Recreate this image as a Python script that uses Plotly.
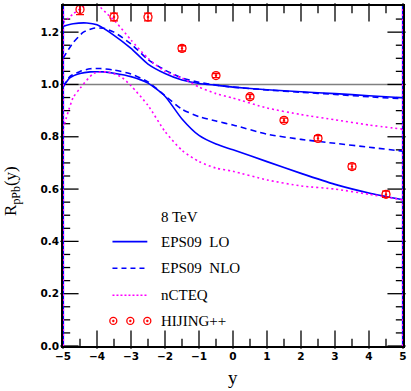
import plotly.graph_objects as go

# ---- data ----
lo_up_x = [-5, -4.7, -4.3, -4.0, -3.5, -3.0, -2.5, -2.0, -1.5, -1.0, -0.5, 0, 1, 2, 3, 4, 5]
lo_up_y = [1.222, 1.232, 1.235, 1.228, 1.188, 1.138, 1.078, 1.042, 1.017, 1.004, 0.997, 0.990, 0.980, 0.972, 0.965, 0.957, 0.949]

lo_dn_x = [-5, -4.8, -4.5, -4.2, -3.8, -3.5, -3.0, -2.5, -2.0, -1.5, -1.0, -0.5, 0, 1, 2, 3, 4, 5]
lo_dn_y = [0.990, 1.025, 1.042, 1.048, 1.048, 1.043, 1.030, 1.005, 0.955, 0.868, 0.805, 0.772, 0.750, 0.705, 0.660, 0.618, 0.585, 0.559]

nlo_up_x = [-5, -4.7, -4.4, -4.1, -3.8, -3.5, -3.0, -2.5, -2.0, -1.5, -1.0, -0.5, 0, 1, 2, 3, 4, 5]
nlo_up_y = [1.100, 1.160, 1.200, 1.215, 1.215, 1.200, 1.155, 1.095, 1.055, 1.025, 1.008, 0.998, 0.990, 0.979, 0.970, 0.962, 0.953, 0.945]

nlo_dn_x = [-5, -4.8, -4.5, -4.2, -3.9, -3.5, -3.0, -2.5, -2.0, -1.5, -1.0, -0.5, 0, 1, 2, 3, 4, 5]
nlo_dn_y = [0.990, 1.030, 1.050, 1.060, 1.061, 1.055, 1.040, 1.010, 0.957, 0.905, 0.877, 0.860, 0.845, 0.810, 0.790, 0.775, 0.760, 0.745]

ncteq_up_x = [-5, -4.7, -4.4, -4.15, -3.95, -3.7, -3.44, -3.0, -2.5, -2.0, -1.5, -1.0, -0.5, 0, 1, 2, 3, 4, 5]
ncteq_up_y = [1.235, 1.270, 1.297, 1.310, 1.300, 1.270, 1.238, 1.170, 1.100, 1.050, 1.025, 0.990, 0.965, 0.948, 0.910, 0.885, 0.865, 0.845, 0.829]

ncteq_dn_x = [-5, -4.7, -4.5, -4.1, -3.7, -3.3, -3.0, -2.5, -2.0, -1.5, -1.0, -0.5, 0, 1, 2, 3, 4, 5]
ncteq_dn_y = [0.830, 0.950, 0.985, 1.042, 1.048, 1.030, 0.995, 0.920, 0.820, 0.748, 0.705, 0.680, 0.668, 0.635, 0.612, 0.600, 0.580, 0.559]

hij_x = [-4.5, -3.5, -2.5, -1.5, -0.5, 0.5, 1.5, 2.5, 3.5, 4.5]
hij_y = [1.287, 1.258, 1.258, 1.138, 1.034, 0.953, 0.863, 0.794, 0.686, 0.580]
hij_err = [0.020, 0.015, 0.015, 0.010, 0.008, 0.008, 0.008, 0.010, 0.010, 0.012]

x_range = [-5, 5]
y_range = [0, 1.3]
x_major = [-5, -4, -3, -2, -1, 0, 1, 2, 3, 4, 5]
x_minor = [-4.5, -3.5, -2.5, -1.5, -0.5, 0.5, 1.5, 2.5, 3.5, 4.5]
y_major = [0.0, 0.2, 0.4, 0.6, 0.8, 1.0, 1.2]
y_minor = [0.05, 0.1, 0.15, 0.25, 0.3, 0.35, 0.45, 0.5, 0.55, 0.65, 0.7, 0.75,
           0.85, 0.9, 0.95, 1.05, 1.1, 1.15, 1.25]

legend_labels = ["EPS09  LO", "EPS09  NLO", "nCTEQ", "HIJING++"]
energy_label = "8 TeV"

BLUE = "#0000ff"
MAG = "#ff00ff"
RED = "#ff0000"

W, H = 411, 391
ML, MR, MT, MB = 63, 6, 4, 45
XU = (x_range[1] - x_range[0]) / (W - ML - MR)   # data units per pixel
YU = (y_range[1] - y_range[0]) / (H - MT - MB)

fig = go.Figure()

# tick marks on all four sides, drawn as line-shaped markers centred half a tick inside the frame
def tick_markers(xs, ys, symbol, size):
    fig.add_trace(go.Scatter(x=xs, y=ys, mode="markers", showlegend=False, hoverinfo="skip",
                             cliponaxis=False,
                             marker=dict(symbol=symbol, size=size, color="black",
                                         line=dict(color="black", width=1.3))))

for vals, ln in ((x_major, 13), (x_minor, 6)):
    tick_markers(vals, [y_range[0] + ln / 2 * YU] * len(vals), "line-ns", ln)
    tick_markers(vals, [y_range[1] - ln / 2 * YU] * len(vals), "line-ns", ln)
for vals, ln in ((y_major, 13), (y_minor, 6)):
    tick_markers([x_range[0] + ln / 2 * XU] * len(vals), vals, "line-ew", ln)
    tick_markers([x_range[1] - ln / 2 * XU] * len(vals), vals, "line-ew", ln)

def band(x, y, color, dash, width):
    fig.add_trace(go.Scatter(x=x, y=y, mode="lines", showlegend=False,
                             line=dict(color=color, dash=dash, width=width, shape="spline", smoothing=0.6)))

band(lo_up_x, lo_up_y, BLUE, "solid", 1.6)
band(lo_dn_x, lo_dn_y, BLUE, "solid", 1.6)
band(nlo_up_x, nlo_up_y, BLUE, "6px,4px", 1.6)
band(nlo_dn_x, nlo_dn_y, BLUE, "6px,4px", 1.6)
band(ncteq_up_x, ncteq_up_y, MAG, "2px,3px", 1.6)
band(ncteq_dn_x, ncteq_dn_y, MAG, "2px,3px", 1.6)

fig.add_trace(go.Scatter(
    x=hij_x, y=hij_y, mode="markers", showlegend=False,
    marker=dict(symbol="circle-open-dot", size=8, color=RED, line=dict(width=1.3, color=RED)),
    error_y=dict(type="data", array=hij_err, visible=True, color=RED, thickness=1.3, width=4),
    cliponaxis=False))

shapes = []
shapes.append(dict(type="line", xref="paper", yref="y", x0=0, x1=1, y0=1, y1=1,
                   line=dict(color="#808080", width=1.5), layer="below"))
for xe in x_range:
    shapes.append(dict(type="line", xref="x", yref="y", x0=xe, x1=xe, y0=0, y1=1.3,
                       line=dict(color=BLUE, width=2.2)))
    shapes.append(dict(type="line", xref="x", yref="y", x0=xe, x1=xe, y0=0, y1=1.3,
                       line=dict(color=MAG, width=2.2, dash="2px,3px")))

# manual legend
lx0, lx1, tx = -3.545, -2.52, -2.17
rows = [0.399, 0.297, 0.194, 0.096]
styles = [(BLUE, "solid"), (BLUE, "5px,4px"), (MAG, "2px,2px")]
for (c, d), yr in zip(styles, rows[:3]):
    shapes.append(dict(type="line", xref="x", yref="y", x0=lx0, x1=lx1, y0=yr, y1=yr,
                       line=dict(color=c, width=1.6, dash=d)))
for xc in (-3.52, -3.02, -2.52):
    shapes.append(dict(type="circle", xref="x", yref="y", xsizemode="pixel", ysizemode="pixel",
                       xanchor=xc, yanchor=rows[3], x0=-3.5, x1=3.5, y0=-3.5, y1=3.5,
                       line=dict(color=RED, width=1.3)))
    shapes.append(dict(type="circle", xref="x", yref="y", xsizemode="pixel", ysizemode="pixel",
                       xanchor=xc, yanchor=rows[3], x0=-1, x1=1, y0=-1, y1=1,
                       fillcolor=RED, line=dict(color=RED, width=0.5)))

SERIF = "Liberation Serif, DejaVu Serif, serif"
annotations = [dict(x=tx, y=0.494, xref="x", yref="y", text=energy_label, showarrow=False,
                    xanchor="left", yanchor="middle", font=dict(family=SERIF, size=15, color="black"))]
for lab, yr in zip(legend_labels, rows):
    annotations.append(dict(x=tx, y=yr, xref="x", yref="y", text=lab, showarrow=False,
                            xanchor="left", yanchor="middle", font=dict(family=SERIF, size=15, color="black")))
annotations.append(dict(x=-0.15, y=0.456, xref="paper", yref="paper", text="R<sub>pPb</sub>(y)",
                        textangle=-90, showarrow=False, xanchor="center", yanchor="middle",
                        font=dict(family=SERIF, size=17, color="black")))
annotations.append(dict(x=0, y=-0.093, xref="x", yref="paper", text="y", showarrow=False,
                        xanchor="center", yanchor="middle", font=dict(family=SERIF, size=19, color="black")))

TICKFONT = dict(family="DejaVu Sans, sans-serif", size=10.5, color="black", weight="bold")

fig.update_layout(
    width=W, height=H,
    margin=dict(l=ML, r=MR, t=MT, b=MB),
    paper_bgcolor="white", plot_bgcolor="white",
    shapes=shapes, annotations=annotations, showlegend=False,
    xaxis=dict(range=x_range, tickmode="array", tickvals=x_major, ticks="",
               showline=True, linecolor="black", linewidth=1.5, mirror=True,
               showgrid=False, zeroline=False, tickfont=TICKFONT),
    yaxis=dict(range=y_range, tickmode="array", tickvals=y_major, tickformat=".1f", ticks="",
               showline=True, linecolor="black", linewidth=1.5, mirror=True,
               showgrid=False, zeroline=False, tickfont=TICKFONT),
)

fig.write_html("out.html", config={"displayModeBar": False},
               post_script="document.body.style.margin='0px';document.body.style.padding='0px';")
